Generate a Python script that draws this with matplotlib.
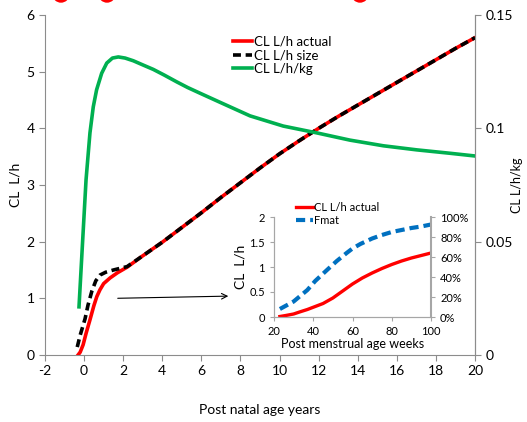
import matplotlib
matplotlib.use("Agg")
import matplotlib.pyplot as plt
from matplotlib.ticker import PercentFormatter
from matplotlib.patches import Ellipse

plt.rcParams['font.family'] = ['Lato', 'DejaVu Sans']
plt.rcParams['axes.unicode_minus'] = False

# Main chart data (post natal age, years)
age_actual = [-0.31, -0.2, -0.05, 0.1, 0.3, 0.5, 0.65, 0.81, 1.0, 1.33, 1.7, 2.2, 3, 4, 5, 6, 7, 8, 9, 10, 11, 12, 13, 14, 15, 16, 17, 18, 19, 20]
cl_actual = [0.0, 0.05, 0.18, 0.38, 0.62, 0.87, 1.03, 1.15, 1.26, 1.36, 1.45, 1.55, 1.75, 1.99, 2.25, 2.51, 2.78, 3.04, 3.30, 3.55, 3.78, 4.00, 4.21, 4.41, 4.61, 4.81, 5.01, 5.21, 5.41, 5.60]

age_size = [-0.35, -0.2, 0.05, 0.2, 0.4, 0.6, 0.81, 1.1, 1.5, 2.2, 3, 4, 5, 6, 7, 8, 9, 10, 11, 12, 13, 14, 15, 16, 17, 18, 19, 20]
cl_size = [0.14, 0.35, 0.64, 0.88, 1.13, 1.31, 1.41, 1.46, 1.50, 1.56, 1.75, 1.99, 2.25, 2.51, 2.78, 3.04, 3.30, 3.55, 3.78, 4.00, 4.21, 4.41, 4.61, 4.81, 5.01, 5.21, 5.41, 5.60]

age_kg = [-0.26, -0.1, 0.1, 0.3, 0.47, 0.64, 0.9, 1.16, 1.45, 1.75, 2.1, 2.52, 3.0, 3.54, 4.1, 4.74, 5.3, 5.93, 6.95, 8.49, 10.19, 11.9, 13.6, 15.31, 17.02, 18.72, 20.0]
cl_kg = [0.02125, 0.0463, 0.0773, 0.0980, 0.1095, 0.1170, 0.1243, 0.1288, 0.1310, 0.1315, 0.1310, 0.1298, 0.1280, 0.1260, 0.1235, 0.1205, 0.1180, 0.1155, 0.1115, 0.1055, 0.1010, 0.0980, 0.0948, 0.0923, 0.0905, 0.0890, 0.0878]

# Inset data (post menstrual age, weeks)
pma_cl = [23, 26, 30, 33, 37, 41, 45, 50, 55, 60, 65, 70, 75, 80, 85, 90, 95, 100]
cl_inset = [0.01, 0.03, 0.06, 0.10, 0.15, 0.21, 0.27, 0.38, 0.52, 0.66, 0.78, 0.88, 0.97, 1.05, 1.12, 1.18, 1.23, 1.28]
pma_f = [23, 30, 37, 41, 47, 52, 57, 60, 64, 70, 75, 80, 85, 90, 95, 100]
fmat = [0.08, 0.155, 0.27, 0.36, 0.47, 0.56, 0.64, 0.685, 0.73, 0.785, 0.82, 0.85, 0.87, 0.89, 0.905, 0.925]

main_xticks = list(range(-2, 21, 2))
main_yticks = [0, 1, 2, 3, 4, 5, 6]
right_yticks = [0, 0.05, 0.1, 0.15]
right_ylabels = ['0', '0.05', '0.1', '0.15']
inset_xticks = [20, 40, 60, 80, 100]
inset_yticks = [0, 0.5, 1, 1.5, 2]
inset_ylabels = ['0', '0.5', '1', '1.5', '2']
inset_rticks = [0, 0.2, 0.4, 0.6, 0.8, 1.0]

grey = '#8c8c8c'
W, H = 527, 422
fig = plt.figure(figsize=(W / 100, H / 100), dpi=100)

ax = fig.add_axes([45 / W, 1 - 355 / H, 430 / W, 340 / H])
ax2 = ax.twinx()

l1, = ax.plot(age_actual, cl_actual, color='#ff0000', lw=2.6, label='CL L/h actual', zorder=3)
l2, = ax.plot(age_size, cl_size, color='black', lw=2.6, ls=(0, (2.2, 1.3)), label='CL L/h size', zorder=4)
l3, = ax2.plot(age_kg, cl_kg, color='#00b050', lw=2.6, label='CL L/h/kg')

ax.set_xlim(-2, 20)
ax.set_ylim(0, 6)
ax2.set_ylim(0, 0.15)
ax.set_xticks(main_xticks)
ax.set_yticks(main_yticks)
ax2.set_yticks(right_yticks)
ax2.set_yticklabels(right_ylabels)

for a in (ax, ax2):
    a.spines['top'].set_visible(False)
    for s in ('left', 'right', 'bottom'):
        a.spines[s].set_color(grey)
    a.tick_params(colors=grey, labelcolor='black', labelsize=10, length=4, direction='out')
ax2.spines['left'].set_visible(False)
ax2.spines['bottom'].set_visible(False)

ax.set_xlabel('Post natal age years', fontsize=10, labelpad=19)
ax.set_ylabel('CL  L/h', fontsize=10, va='center')
ax.yaxis.set_label_coords((15 - 45) / 430, 0.5)
ax2.set_ylabel('CL L/h/kg', fontsize=9, va='center', rotation=90)
ax2.yaxis.set_label_coords((517 - 45) / 430, 0.5)

ax.legend(handles=[l1, l2, l3], loc='upper left', bbox_to_anchor=(226 / W, 1 - 29 / H),
          bbox_transform=fig.transFigure, frameon=False, fontsize=9.5,
          handlelength=1.5, handletextpad=0.1, labelspacing=0.12, borderpad=0)

ax.annotate('', xy=(7.52, 1.04), xytext=(1.58, 1.0),
            arrowprops=dict(arrowstyle='->', color='black', lw=0.8), zorder=5)

# Inset
axi = fig.add_axes([274 / W, 1 - 317 / H, 157 / W, 100 / H])
axi2 = axi.twinx()
i1, = axi.plot(pma_cl, cl_inset, color='#ff0000', lw=2.4, label='CL L/h actual')
i2, = axi2.plot(pma_f, fmat, color='#0070c0', lw=3, ls=(0, (2.2, 1.2)), label='Fmat')
axi.set_xlim(20, 100)
axi.set_ylim(0, 2)
axi2.set_ylim(0, 1)
axi.set_xticks(inset_xticks)
axi.set_yticks(inset_yticks)
axi.set_yticklabels(inset_ylabels)
axi2.set_yticks(inset_rticks)
axi2.yaxis.set_major_formatter(PercentFormatter(1.0, decimals=0))
for a in (axi, axi2):
    a.patch.set_alpha(0)
    a.spines['top'].set_visible(False)
    for s in ('left', 'right', 'bottom'):
        a.spines[s].set_color('#a6a6a6')
    a.tick_params(colors='#a6a6a6', labelcolor='black', labelsize=8, length=3, direction='out')
axi.spines['right'].set_visible(False)
axi2.spines['right'].set_linewidth(1.5)
axi.set_xlabel('Post menstrual age weeks', fontsize=9, labelpad=1)
axi.set_ylabel('CL  L/h', fontsize=10, labelpad=2)
fig.legend(handles=[i1, i2], loc='upper left', bbox_to_anchor=(290 / W, 1 - 196 / H),
           bbox_transform=fig.transFigure, frameon=False, fontsize=8,
           handlelength=1.6, handletextpad=0.1, labelspacing=0.25, borderpad=0)

# Red circles cut off at the top edge
for cx in (61, 107, 360):
    fig.patches.append(Ellipse((cx / W, 1 + 6 / H), 16 / W, 16 / H, color='#ff0000',
                               transform=fig.transFigure, figure=fig))

fig.savefig('out.png', dpi=100)
